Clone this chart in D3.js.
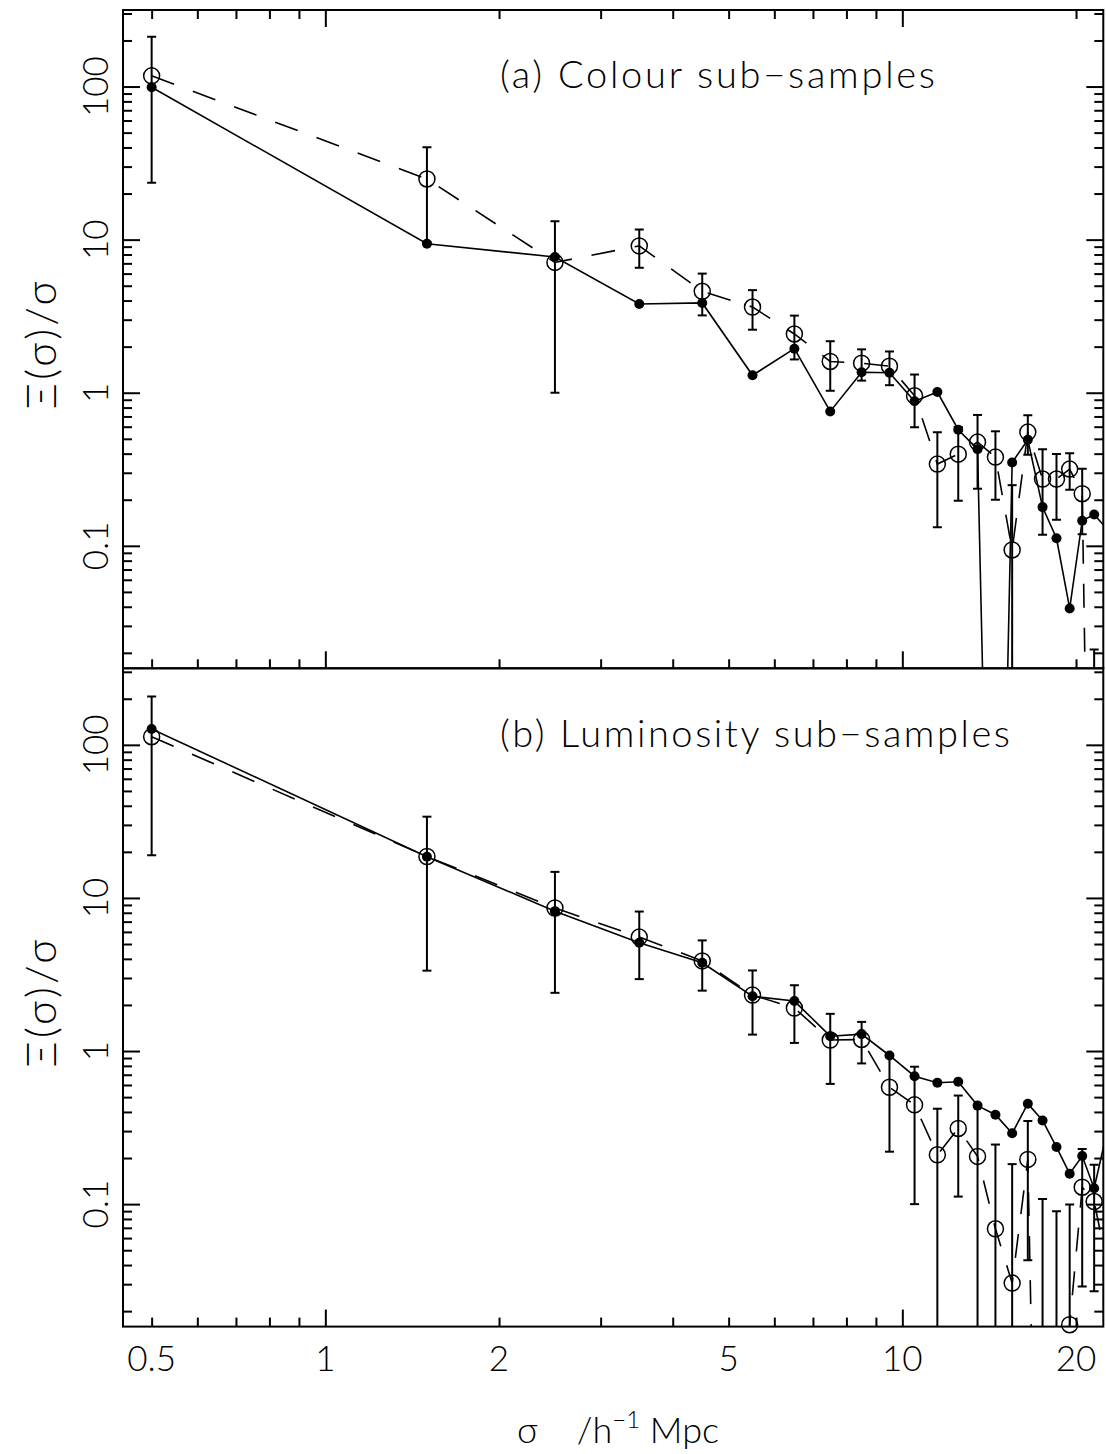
<!DOCTYPE html>
<html><head><meta charset="utf-8">
<script src="https://cdn.jsdelivr.net/npm/d3@7"></script>
<style>
body{margin:0;background:#fff}
text{font-family:Lato,"DejaVu Sans",sans-serif;font-weight:300;fill:#000}
</style>
</head><body>
<svg id="chart" width="1106" height="1454" xmlns="http://www.w3.org/2000/svg"></svg>
<script>
// ---------------- data ----------------
const separations = [0.5,1.5,2.5,3.5,4.5,5.5,6.5,7.5,8.5,9.5,10.5,11.5,12.5,13.5,14.5,15.5,16.5,17.5,18.5,19.5,20.5,21.5,22.5];
// 3e-6 marks a point that lies far below the plotted range (non-positive estimate)
const colourFilled  = [99,9.4,7.7,3.8,3.86,1.30,1.94,0.755,1.36,1.35,0.88,1.01,0.573,0.428,3e-6,0.35,0.493,0.179,0.112,0.039,0.146,0.16,0.132];
const colourOpen    = [117.5,24.9,7.1,9.1,4.6,3.63,2.42,1.60,1.56,1.49,0.955,0.342,0.397,0.476,0.38,0.094,0.553,0.273,0.273,0.317,0.219,3e-6];
const colourOpenErr = [94,15.3,6.1,2.55,1.4,1.05,0.77,0.57,0.36,0.37,0.36,0.21,0.2,0.24,0.18,0.155,0.16,0.155,0.125,0.085,0.1,0.021];
const lumFilled     = [127,18.6,8.2,5.09,3.77,2.28,2.12,1.25,1.29,0.935,0.685,0.62,0.63,0.44,0.384,0.29,0.453,0.352,0.236,0.158,0.206,0.127,0.27];
const lumOpen       = [113,18.65,8.6,5.55,3.88,2.32,1.91,1.18,1.19,0.58,0.445,0.21,0.312,0.205,0.069,0.0305,0.196,3e-6,3e-6,0.0163,0.129,0.104,0.045];
const lumOpenErr    = [94,15.3,6.2,2.6,1.4,1.04,0.78,0.57,0.36,0.36,0.345,0.21,0.2,0.235,0.176,0.152,0.153,0.108,0.09,0.083,0.1,0.077,0.05];
const xTickLabels = [0.5,1,2,5,10,20];
const xMajorTicks = [1,10];
const xMinorTicks = [0.5,0.6,0.7,0.8,0.9,2,3,4,5,6,7,8,9,20];
const yTickLabels = [0.1,1,10,100];
const yMajorTicks = [0.1,1,10,100];
const yMinorTicks = [0.02,0.03,0.04,0.05,0.06,0.07,0.08,0.09,0.2,0.3,0.4,0.5,0.6,0.7,0.8,0.9,2,3,4,5,6,7,8,9,20,30,40,50,60,70,80,90,200,300];
const panelTitles = ["(a) Colour sub\u2212samples","(b) Luminosity sub\u2212samples"];
const yTitle = "\u039E(\u03C3)/\u03C3";

// ---------------- layout ----------------
const W = 1106, H = 1454;
const L = 123, R = 1103.3;
const panels = [
  {top:10, bottom:668.3, filled:colourFilled, open:colourOpen, err:colourOpenErr, title:panelTitles[0], titleLen:435, titleY:88, topTicks:true},
  {top:668.3, bottom:1326.6, filled:lumFilled, open:lumOpen, err:lumOpenErr, title:panelTitles[1], titleLen:510, titleY:747, topTicks:false}
];
const yDomain = [Math.pow(10,-1.8), Math.pow(10,2.5)];
const xDomain = [0.446, 22.3];

const svg = d3.select("#chart");
svg.append("rect").attr("width",W).attr("height",H).attr("fill","#fff");
const x = d3.scaleLog().domain(xDomain).range([L,R]);

const MAJ = 17, MIN = 9;
function tickAxis(g, gen, vals, size){
  g.call(gen.tickValues(vals).tickSize(size).tickFormat(""));
  g.select(".domain").remove();
  g.selectAll("line").attr("stroke","#000").attr("stroke-width",2);
}

panels.forEach((p,pi)=>{
  const y = d3.scaleLog().domain(yDomain).range([p.bottom,p.top]);
  const clipId = "clip"+pi;
  svg.append("clipPath").attr("id",clipId).append("rect")
    .attr("x",L).attr("y",p.top).attr("width",R-L).attr("height",p.bottom-p.top);
  const g = svg.append("g");
  const data = separations.map((s,i)=>({s, f:p.filled[i], o:p.open[i], e:p.err[i]}));
  const inX = d=> d.s>=xDomain[0] && d.s<=xDomain[1];
  const inY = v=> v!=null && v>=yDomain[0] && v<=yDomain[1];

  // lines
  const plot = g.append("g").attr("clip-path",`url(#${clipId})`);
  plot.append("path").datum(data.filter(d=>d.f!=null))
    .attr("d", d3.line().x(d=>x(d.s)).y(d=>y(d.f)))
    .attr("fill","none").attr("stroke","#000").attr("stroke-width",1.6);
  plot.append("path").datum(data.filter(d=>d.o!=null))
    .attr("d", d3.line().x(d=>x(d.s)).y(d=>y(d.o)))
    .attr("fill","none").attr("stroke","#000").attr("stroke-width",1.6)
    .attr("stroke-dasharray","24,20");

  // error bars on open points
  const cap = 4.5;
  data.filter(d=>d.o!=null && inX(d)).forEach(d=>{
    const hi = d.o + d.e, lo = d.o - d.e;
    const yHi = hi>yDomain[1] ? p.top : y(hi);
    const yLo = lo<yDomain[0] ? p.bottom : y(lo);
    const cx = x(d.s);
    plot.append("line").attr("x1",cx).attr("x2",cx).attr("y1",yHi).attr("y2",yLo)
      .attr("stroke","#000").attr("stroke-width",2);
    if (hi<=yDomain[1] && hi>=yDomain[0]) plot.append("line").attr("x1",cx-cap).attr("x2",cx+cap).attr("y1",yHi).attr("y2",yHi).attr("stroke","#000").attr("stroke-width",2);
    if (lo>=yDomain[0]) plot.append("line").attr("x1",cx-cap).attr("x2",cx+cap).attr("y1",yLo).attr("y2",yLo).attr("stroke","#000").attr("stroke-width",2);
  });

  // markers
  g.append("g").selectAll("circle.o").data(data.filter(d=>inX(d)&&inY(d.o))).join("circle")
    .attr("cx",d=>x(d.s)).attr("cy",d=>y(d.o)).attr("r",8)
    .attr("fill","none").attr("stroke","#000").attr("stroke-width",1.5);
  g.append("g").selectAll("circle.f").data(data.filter(d=>inX(d)&&inY(d.f))).join("circle")
    .attr("cx",d=>x(d.s)).attr("cy",d=>y(d.f)).attr("r",5).attr("fill","#000");

  // axes ticks
  tickAxis(svg.append("g").attr("transform",`translate(${L},0)`), d3.axisRight(y), yMajorTicks, MAJ);
  tickAxis(svg.append("g").attr("transform",`translate(${L},0)`), d3.axisRight(y), yMinorTicks, MIN);
  tickAxis(svg.append("g").attr("transform",`translate(${R},0)`), d3.axisLeft(y), yMajorTicks, MAJ);
  tickAxis(svg.append("g").attr("transform",`translate(${R},0)`), d3.axisLeft(y), yMinorTicks, MIN);
  if (p.topTicks){
    tickAxis(svg.append("g").attr("transform",`translate(0,${p.top})`), d3.axisBottom(x), xMajorTicks, MAJ);
    tickAxis(svg.append("g").attr("transform",`translate(0,${p.top})`), d3.axisBottom(x), xMinorTicks, MIN);
  }
  tickAxis(svg.append("g").attr("transform",`translate(0,${p.bottom})`), d3.axisTop(x), xMajorTicks, MAJ);
  tickAxis(svg.append("g").attr("transform",`translate(0,${p.bottom})`), d3.axisTop(x), xMinorTicks, MIN);

  // frame
  svg.append("rect").attr("x",L).attr("y",p.top).attr("width",R-L).attr("height",p.bottom-p.top)
    .attr("fill","none").attr("stroke","#000").attr("stroke-width",2);

  // y tick labels (rotated)
  svg.append("g").selectAll("text").data(yTickLabels).join("text")
    .attr("transform",d=>`translate(108,${y(d)}) rotate(-90)`)
    .attr("text-anchor","middle").attr("font-size",35).text(d=>String(d));
  // y title
  svg.append("text").attr("transform",`translate(56,${(p.top+p.bottom)/2+6}) rotate(-90)`)
    .attr("text-anchor","middle").attr("font-size",42)
    .attr("textLength",128).attr("lengthAdjust","spacing").text(yTitle);
  // panel title
  svg.append("text").attr("x",500).attr("y",p.titleY).attr("font-size",38)
    .attr("textLength",p.titleLen).attr("lengthAdjust","spacing").text(p.title);
});

// x tick labels
svg.append("g").selectAll("text").data(xTickLabels).join("text")
  .attr("x",d=>x(d)).attr("y",1371).attr("text-anchor","middle").attr("font-size",35).text(d=>String(d));

// x title
const xt = svg.append("text").attr("x",618).attr("y",1443).attr("text-anchor","middle")
  .attr("font-size",36).style("white-space","pre");
xt.append("tspan").text("\u03C3    /h");
xt.append("tspan").attr("dy",-15).attr("font-size",24).text("\u22121");
xt.append("tspan").attr("dy",15).text(" Mpc");
</script>
</body></html>
